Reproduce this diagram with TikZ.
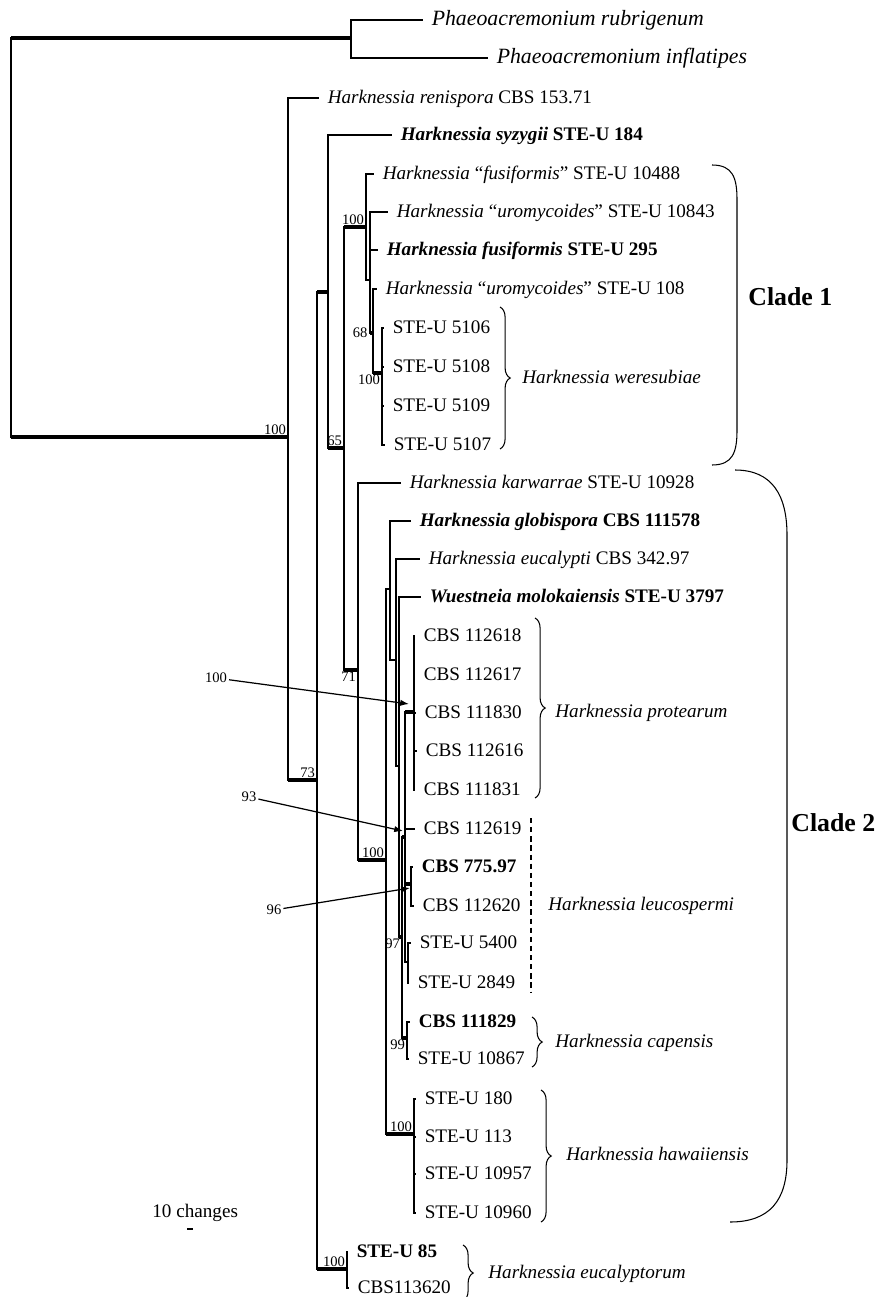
\documentclass[tikz,border=0pt]{standalone}
\usepackage{fontspec}
\setmainfont{Liberation Serif}
\usetikzlibrary{arrows.meta,decorations.pathreplacing,positioning}

\begin{document}
\begin{tikzpicture}[x=0.02cm, y=-0.02cm,
    branch/.style={line width=0.6pt},
    support/.style={line width=2.3pt},
    leaf/.style={anchor=west, inner sep=0pt, outer xsep=5pt, outer ysep=0pt,
      text height=0.66em, text depth=0pt, font=\fontsize{10.9}{13}\selectfont},
    outgroup/.style={leaf, font=\fontsize{12.4}{15}\selectfont\itshape},
    taxon/.style={anchor=west, inner sep=0pt, text height=0.66em, text depth=0pt,
      font=\fontsize{10.9}{13}\selectfont\itshape},
    boot/.style={inner sep=1pt, font=\fontsize{8.3}{10}\selectfont},
    clade/.style={anchor=west, inner sep=0pt, text height=0.66em, text depth=0pt,
      font=\fontsize{14.7}{17}\selectfont\bfseries},
    grpbrace/.style={decorate, decoration={brace, amplitude=5.8pt}, line width=0.6pt},
    pointer/.style={-{Latex[length=5pt, width=3.6pt]}, line width=0.7pt}]

    \useasboundingbox (0,0) rectangle (877,1297);

    % Internal nodes
    \coordinate (root) at (11,237);
    \coordinate (phaeo) at (351,38);
    \coordinate (ing) at (288,437);
    \coordinate (n73) at (317,780);
    \coordinate (n292) at (328,292);
    \coordinate (n65) at (344,448);
    \coordinate (c1) at (366,227);
    \coordinate (nb) at (370,280);
    \coordinate (n68) at (373,333);
    \coordinate (w100) at (382,373);
    \coordinate (n71) at (358,670);
    \coordinate (n100c) at (386,860);
    \coordinate (ng) at (390,589);
    \coordinate (ne) at (396,660);
    \coordinate (nm) at (399,766);
    \coordinate (n97) at (402,937);
    \coordinate (n93) at (405,837);
    \coordinate (pr100) at (414,712);
    \coordinate (n96) at (411,884);
    \coordinate (ns) at (408,962);
    \coordinate (n99) at (407,1038);
    \coordinate (haw) at (414,1134);
    \coordinate (eu100) at (347,1269);

    % Leaves
    \node[outgroup] (rub) at (423,20) {Phaeoacremonium rubrigenum};
    \node[outgroup] (inf) at (488,58) {Phaeoacremonium inflatipes};
    \node[leaf] (ren) at (319,98) {\textit{Harknessia renispora} CBS 153.71};
    \node[leaf] (syz) at (392,135) {\textbf{\textit{Harknessia syzygii} STE-U 184}};
    \node[leaf] (fus1) at (374,174) {\textit{Harknessia} “\textit{fusiformis}” STE-U 10488};
    \node[leaf] (uro1) at (388,212) {\textit{Harknessia} “\textit{uromycoides}” STE-U 10843};
    \node[leaf] (fus) at (378,250) {\textbf{\textit{Harknessia fusiformis} STE-U 295}};
    \node[leaf] (uro2) at (377,289) {\textit{Harknessia} “\textit{uromycoides}” STE-U 108};
    \node[leaf] (w5106) at (384,328) {STE-U 5106};
    \node[leaf] (w5108) at (384,367) {STE-U 5108};
    \node[leaf] (w5109) at (384,406) {STE-U 5109};
    \node[leaf] (w5107) at (385,445) {STE-U 5107};
    \node[leaf] (kar) at (401,483) {\textit{Harknessia karwarrae} STE-U 10928};
    \node[leaf] (glo) at (411,521) {\textbf{\textit{Harknessia globispora} CBS 111578}};
    \node[leaf] (euc) at (420,559) {\textit{Harknessia eucalypti} CBS 342.97};
    \node[leaf] (mol) at (421,597) {\textbf{\textit{Wuestneia molokaiensis} STE-U 3797}};
    \node[leaf] (p112618) at (415,636) {CBS 112618};
    \node[leaf] (p112617) at (415,675) {CBS 112617};
    \node[leaf] (p111830) at (416,713) {CBS 111830};
    \node[leaf] (p112616) at (417,751) {CBS 112616};
    \node[leaf] (p111831) at (415,790) {CBS 111831};
    \node[leaf] (l112619) at (415,829) {CBS 112619};
    \node[leaf] (l775) at (413,867) {\textbf{CBS 775.97}};
    \node[leaf] (l112620) at (414,906) {CBS 112620};
    \node[leaf] (l5400) at (411,943) {STE-U 5400};
    \node[leaf] (l2849) at (409,983) {STE-U 2849};
    \node[leaf] (c111829) at (410,1022) {\textbf{CBS 111829}};
    \node[leaf] (c10867) at (409,1059) {STE-U 10867};
    \node[leaf] (h180) at (416,1099) {STE-U 180};
    \node[leaf] (h113) at (416,1137) {STE-U 113};
    \node[leaf] (h10957) at (416,1174) {STE-U 10957};
    \node[leaf] (h10960) at (416,1213) {STE-U 10960};
    \node[leaf] (e85) at (348,1252) {\textbf{STE-U 85}};
    \node[leaf] (e113620) at (349,1288) {CBS113620};

    % Branches
    \draw[branch] (root) |- (phaeo);
    \draw[branch] (root) |- (ing);
    \draw[branch] (phaeo) |- (rub);
    \draw[branch] (phaeo) |- (inf);
    \draw[branch] (ing) |- (ren);
    \draw[branch] (ing) |- (n73);
    \draw[branch] (n73) |- (n292);
    \draw[branch] (n73) |- (eu100);
    \draw[branch] (eu100) |- (e85);
    \draw[branch] (eu100) |- (e113620);
    \draw[branch] (n292) |- (syz);
    \draw[branch] (n292) |- (n65);
    \draw[branch] (n65) |- (c1);
    \draw[branch] (n65) |- (n71);
    \draw[branch] (c1) |- (fus1);
    \draw[branch] (c1) |- (nb);
    \draw[branch] (nb) |- (uro1);
    \draw[branch] (nb) |- (fus);
    \draw[branch] (nb) |- (n68);
    \draw[branch] (n68) |- (uro2);
    \draw[branch] (n68) |- (w100);
    \draw[branch] (w100) |- (w5106);
    \draw[branch] (w100) |- (w5108);
    \draw[branch] (w100) |- (w5109);
    \draw[branch] (w100) |- (w5107);
    \draw[branch] (n71) |- (kar);
    \draw[branch] (n71) |- (n100c);
    \draw[branch] (n100c) |- (ng);
    \draw[branch] (n100c) |- (haw);
    \draw[branch] (ng) |- (glo);
    \draw[branch] (ng) |- (ne);
    \draw[branch] (ne) |- (euc);
    \draw[branch] (ne) |- (nm);
    \draw[branch] (nm) |- (mol);
    \draw[branch] (nm) |- (n97);
    \draw[branch] (n97) |- (n93);
    \draw[branch] (n97) |- (n99);
    \draw[branch] (n93) |- (pr100);
    \draw[branch] (n93) |- (l112619);
    \draw[branch] (n93) |- (n96);
    \draw[branch] (n93) |- (ns);
    \draw[branch] (pr100) |- (p112618);
    \draw[branch] (pr100) |- (p112617);
    \draw[branch] (pr100) |- (p111830);
    \draw[branch] (pr100) |- (p112616);
    \draw[branch] (pr100) |- (p111831);
    \draw[branch] (n96) |- (l775);
    \draw[branch] (n96) |- (l112620);
    \draw[branch] (ns) |- (l5400);
    \draw[branch] (ns) |- (l2849);
    \draw[branch] (n99) |- (c111829);
    \draw[branch] (n99) |- (c10867);
    \draw[branch] (haw) |- (h180);
    \draw[branch] (haw) |- (h113);
    \draw[branch] (haw) |- (h10957);
    \draw[branch] (haw) |- (h10960);

    % Supported branches
    \draw[support] (root |- phaeo) -- (phaeo);
    \draw[support] (root |- ing) -- (ing);
    \draw[support] (ing |- n73) -- (n73);
    \draw[support] (n73 |- n292) -- (n292);
    \draw[support] (n73 |- eu100) -- (eu100);
    \draw[support] (n292 |- n65) -- (n65);
    \draw[support] (n65 |- c1) -- (c1);
    \draw[support] (n65 |- n71) -- (n71);
    \draw[support] (nb |- n68) -- (n68);
    \draw[support] (n68 |- w100) -- (w100);
    \draw[support] (n71 |- n100c) -- (n100c);
    \draw[support] (n100c |- haw) -- (haw);
    \draw[support] (nm |- n97) -- (n97);
    \draw[support] (n97 |- n93) -- (n93);
    \draw[support] (n97 |- n99) -- (n99);
    \draw[support] (n93 |- pr100) -- (pr100);
    \draw[support] (n93 |- n96) -- (n96);

    % Bootstrap values
    \node[boot, above left] (bing) at (ing) {100};
    \node[boot, above left] (b73) at (n73) {73};
    \node[boot, above left] (b65) at (n65) {65};
    \node[boot, above left] (bc1) at (c1) {100};
    \node[boot, left, xshift=-2pt] (b68) at (n68) {68};
    \node[boot, below left] (bw100) at (w100) {100};
    \node[boot, below left] (b71) at (n71) {71};
    \node[boot, above left] (b100c) at (n100c) {100};
    \node[boot, left, yshift=-4pt] (b97) at (n97) {97};
    \node[boot, below left] (b99) at (n99) {99};
    \node[boot, above left] (bhaw) at (haw) {100};
    \node[boot, above left] (beu) at (eu100) {100};

    % Pointers to short branches
    \coordinate (t100) at (409,704);
    \coordinate (t93) at (403,831);
    \coordinate (t96) at (410,888);
    \node[boot] (a100) at (216,678) {100};
    \node[boot] (a93) at (249,797) {93};
    \node[boot] (a96) at (274,910) {96};
    \draw[pointer] (a100) -- (t100);
    \draw[pointer] (a93) -- (t93);
    \draw[pointer] (a96) -- (t96);

    % Species groups
    \draw[grpbrace] (500,307) -- (500,449);
    \node[taxon] (wer) at (522,378) {Harknessia weresubiae};
    \draw[grpbrace] (535,618) -- (535,798);
    \node[taxon] (pro) at (555,712) {Harknessia protearum};
    \draw[branch, dash pattern=on 3pt off 2.2pt, line width=1pt] (531,818) -- (531,992);
    \node[taxon] (leu) at (548,905) {Harknessia leucospermi};
    \draw[grpbrace] (532,1017) -- (532,1067);
    \node[taxon] (cap) at (555,1042) {Harknessia capensis};
    \draw[grpbrace] (541,1090) -- (541,1222);
    \node[taxon] (hawn) at (566,1155) {Harknessia hawaiiensis};
    \draw[grpbrace] (463,1245) -- (463,1301);
    \node[taxon] (eun) at (488,1273) {Harknessia eucalyptorum};

    % Clades
    \draw[branch] (712,165) .. controls (733,165) and (737,178) .. (737,200) -- (737,430)
      .. controls (737,452) and (733,465) .. (712,465);
    \node[clade] (cl1) at (748,300) {Clade 1};
    \draw[branch] (735,470) .. controls (772,470) and (787,495) .. (787,535) -- (787,1160)
      .. controls (787,1200) and (770,1222) .. (730,1222);
    \node[clade] (cl2) at (791,826) {Clade 2};

    % Scale
    \node[anchor=west, inner sep=0pt, font=\fontsize{10.9}{13}\selectfont] (chg) at (152,1213) {10 changes};
    \coordinate (sb1) at (187,1229);
    \coordinate (sb2) at (193,1229);
    \draw[branch] (sb1) -- (sb2);

\end{tikzpicture}
\end{document}
